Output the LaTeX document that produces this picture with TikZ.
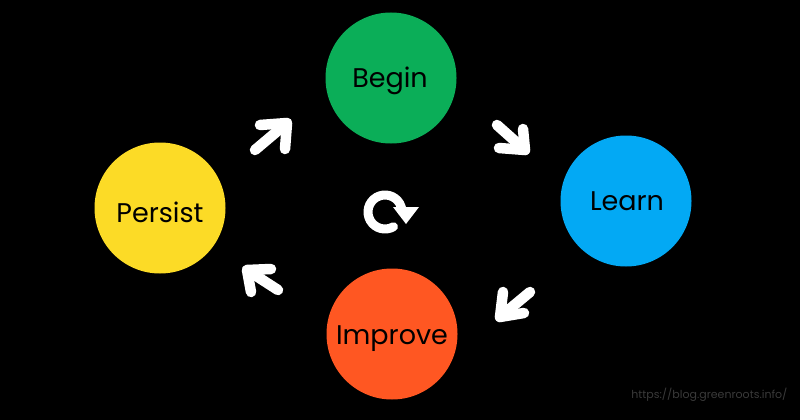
\documentclass[tikz,border=0pt]{standalone}
\usepackage{fontspec}
\usetikzlibrary{calc}
\setmainfont{Poppins}
\definecolor{cgreen}{HTML}{0BAE58}
\definecolor{cblue}{HTML}{03A9F4}
\definecolor{corange}{HTML}{FF5722}
\definecolor{cyellow}{HTML}{FCDB26}
\definecolor{cmark}{HTML}{3A3A3A}
\tikzset{
  stage/.style={circle, minimum size=131pt, inner sep=0pt, fill=#1},
  lbl/.style={anchor=base, font=\fontsize{27}{31}\selectfont, text=black},
  bigarrow/.style={draw=white, line width=10.5pt, line cap=round, line join=round},
}
\begin{document}
\begin{tikzpicture}[x=1pt,y=-1pt]
\fill[black] (0,0) rectangle (800,420);
\useasboundingbox (0,0) rectangle (800,420);

\node[stage=cgreen] (begin) at (391,78) {};
\node[stage=cblue] (learn) at (626,201) {};
\node[stage=corange] (improve) at (392,334) {};
\node[stage=cyellow] (persist) at (160,208) {};

\node[lbl] (tbegin) at (390,87) {Begin};
\node[lbl] (tlearn) at (627,210) {Learn};
\node[lbl] (timprove) at (392,344) {Improve};
\node[lbl] (tpersist) at (160,222) {Persist};

% arrows
\draw[bigarrow] (255,150) -- (287,123);
\draw[bigarrow] (260,125) -- (287,123) -- (285,149);

\draw[bigarrow] (497,125) -- (525,150);
\draw[bigarrow] (523,129) -- (525,150) -- (499,148);

\draw[bigarrow] (530,292) -- (500,317);
\draw[bigarrow] (503,292) -- (500,317) -- (524,313);

\draw[bigarrow] (278,290) -- (247,270);
\draw[bigarrow] (271,269) -- (247,270) -- (251,292);

% cycle icon
\coordinate (cyc) at (385,212);
\draw[draw=white, line width=9pt, line cap=round] ($(cyc)+(60:17)$) arc[start angle=60, end angle=358, radius=17];
\fill[white] (393,207) -- (419,207) -- (406,224) -- cycle;

\node[anchor=base east, font=\fontsize{11}{13}\selectfont, text=cmark] (mark) at (791,398) {https://blog.greenroots.info/};
\end{tikzpicture}
\end{document}
